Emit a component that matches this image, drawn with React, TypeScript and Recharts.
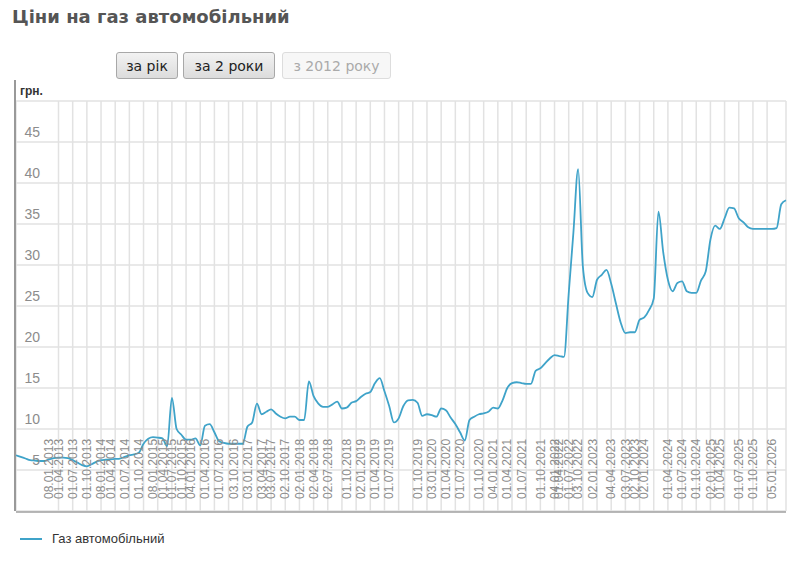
import { LineChart, Line, XAxis, YAxis, CartesianGrid } from 'recharts';

// weekly-ish price points, one per category slot (грн. за літр)
const gasPrices = [
  6.8, 6.6, 6.4, 6.2, 6.15, 6.1, 6.1, 6.3, 6.45, 6.5,
  6.5, 6.45, 6.2, 5.9, 5.6, 5.45, 5.7, 6.0, 6.2, 6.25,
  6.3, 6.35, 6.4, 6.6, 6.8, 6.9, 7.1, 8.2, 8.8, 9.0,
  8.95, 8.85, 7.9, 13.8, 10.0, 9.3, 8.7, 8.7, 8.85, 8.0,
  10.4, 10.6, 9.6, 8.5, 8.3, 8.2, 8.2, 8.2, 8.2, 10.3,
  10.8, 13.1, 11.8, 12.1, 12.4, 11.9, 11.5, 11.3, 11.5, 11.5,
  11.1, 11.1, 15.8, 14.0, 13.1, 12.7, 12.7, 13.0, 13.35, 12.5,
  12.6, 13.2, 13.4, 13.9, 14.3, 14.5, 15.6, 16.2, 14.6, 12.8,
  10.8, 11.3, 12.8, 13.5, 13.55, 13.2, 11.6, 11.8, 11.7, 11.5,
  12.5, 12.3, 11.4, 10.6, 9.6, 8.6, 11.1, 11.5, 11.8, 11.9,
  12.1, 12.6, 12.5, 13.5, 15.0, 15.6, 15.7, 15.6, 15.5, 15.5,
  17.1, 17.4, 18.0, 18.6, 19.0, 18.9, 18.8, 26.5, 34.0, 41.7,
  29.8, 26.6, 26.1, 28.2, 28.8, 29.4, 27.7, 25.3, 23.0, 21.7,
  21.8, 21.8, 23.3, 23.6, 24.5, 25.9, 36.5, 31.6, 28.2, 26.8,
  27.8, 28.0, 26.8, 26.6, 26.6, 28.1, 29.2, 33.1, 34.8, 34.4,
  35.7, 37.0, 36.9, 35.7, 35.2, 34.6, 34.4, 34.4, 34.4, 34.4,
  34.4, 34.5, 37.4, 37.9,
];

const tickLabels = [
  '08.01.2013', '01.04.2013', '01.07.2013', '01.10.2013',
  '08.01.2014', '01.04.2014', '01.07.2014', '01.10.2014',
  '08.01.2015', '01.04.2015', '01.07.2015', '01.10.2015',
  '04.01.2016', '01.04.2016', '01.07.2016', '03.10.2016',
  '03.01.2017', '03.04.2017', '03.07.2017', '02.10.2017',
  '02.01.2018', '02.04.2018', '02.07.2018', '01.10.2018',
  '02.01.2019', '01.04.2019', '01.07.2019', '01.10.2019',
  '03.01.2020', '01.04.2020', '01.07.2020', '01.10.2020',
  '04.01.2021', '01.04.2021', '01.07.2021', '01.10.2021',
  '04.01.2022', '01.04.2022', '01.07.2022', '03.10.2022',
  '02.01.2023', '04.04.2023', '03.07.2023', '02.10.2023',
  '02.01.2024', '01.04.2024', '01.07.2024', '01.10.2024',
  '02.01.2025', '01.04.2025', '01.07.2025', '01.10.2025',
  '05.01.2026',
];

// index of the price point each label date falls on
const tickIndex = [
  7, 9, 12, 15, 18, 20, 23, 26, 29, 31, 33, 35,
  37, 40, 43, 46, 49, 52, 54, 57, 60, 63, 66, 70,
  73, 76, 79, 85, 88, 91, 94, 98, 101, 104, 107, 111,
  114, 115, 117, 119, 122, 126, 129, 131, 133, 138, 141, 144,
  147, 149, 153, 156, 160,
];

const yTicks = [0, 5, 10, 15, 20, 25, 30, 35, 40, 45, 50];

const data = gasPrices.map((v, i) => ({ i, v }));
const lastIndex = gasPrices.length - 1;
const labelByIndex = new Map(tickIndex.map((idx, k) => [idx, tickLabels[k]]));
const gridTicks: number[] = [];
for (let g = 9; g <= lastIndex - 3; g += 3) gridTicks.push(g);

const LINE_COLOR = '#3fa3c9';
const AXIS_FONT = '"Liberation Sans", Arial, sans-serif';

const XTick = (props: any) => {
  const { x, y, payload } = props;
  const label = labelByIndex.get(payload.value);
  if (!label) return null;
  return (
    <text
      transform={`translate(${x},${y - 13}) rotate(-90)`}
      dy="0.35em"
      textAnchor="start"
      fontSize={12}
      fontFamily={AXIS_FONT}
      fill="#8c8c8c"
    >
      {label}
    </text>
  );
};

const YTick = (props: any) => {
  const { x, y, payload } = props;
  if (payload.value === 0 || payload.value === 50) return null;
  return (
    <text x={x + 24} y={y - 5} textAnchor="end" fontSize={14} fontFamily={AXIS_FONT} fill="#8c8c8c">
      {payload.value}
    </text>
  );
};

const NoTick = () => null;

const btnBase: React.CSSProperties = {
  position: 'absolute',
  top: 52,
  height: 27,
  boxSizing: 'border-box',
  border: '1px solid #a8a8a8',
  borderRadius: 3,
  background: 'linear-gradient(#f2f2f2, #dcdcdc)',
  fontFamily: '"DejaVu Sans", Verdana, sans-serif',
  fontSize: 14,
  color: '#222',
  display: 'flex',
  alignItems: 'center',
  justifyContent: 'center',
};

const App = () => {
  return (
    <div style={{ position: 'absolute', left: 0, top: 0, width: 800, height: 567, background: '#fff', overflow: 'hidden' }}>
      <div
        style={{
          position: 'absolute',
          left: 12,
          top: 6,
          fontFamily: '"DejaVu Sans", Verdana, sans-serif',
          fontWeight: 'bold',
          fontSize: 18,
          color: '#555',
        }}
      >
        Ціни на газ автомобільний
      </div>

      <div style={{ ...btnBase, left: 116, width: 62 }}>за рік</div>
      <div style={{ ...btnBase, left: 183, width: 92 }}>за 2 роки</div>
      <div
        style={{
          ...btnBase,
          left: 282,
          width: 109,
          color: '#aaa',
          border: '1px solid #ddd',
          background: '#f7f7f7',
        }}
      >
        з 2012 року
      </div>

      <div
        style={{
          position: 'absolute',
          left: 20,
          top: 84,
          fontFamily: AXIS_FONT,
          fontSize: 12,
          fontWeight: 'bold',
          color: '#333',
        }}
      >
        грн.
      </div>

      <div style={{ position: 'absolute', left: 0, top: 0 }}>
        <LineChart width={800} height={567} data={data} margin={{ top: 101, right: 14, bottom: 54, left: 15 }}>
          <CartesianGrid xAxisId="grid" stroke="#e2e2e2" strokeWidth={1.5} />
          <XAxis
            xAxisId="main"
            type="number"
            dataKey="i"
            domain={[0, lastIndex]}
            ticks={tickIndex}
            interval={0}
            height={1}
            tickSize={0}
            tickMargin={0}
            tickLine={false}
            tick={<XTick />}
            axisLine={{ stroke: '#a0a0a0', strokeWidth: 1.5 }}
          />
          <XAxis
            xAxisId="grid"
            type="number"
            dataKey="i"
            domain={[0, lastIndex]}
            ticks={gridTicks}
            interval={0}
            height={1}
            tick={<NoTick />}
            tickLine={false}
            axisLine={false}
          />
          <YAxis
            type="number"
            domain={[0, 50]}
            ticks={yTicks}
            interval={0}
            width={1}
            tickSize={0}
            tickMargin={0}
            tickLine={false}
            axisLine={false}
            tick={<YTick />}
          />
          <Line
            xAxisId="main"
            type="monotone"
            dataKey="v"
            stroke={LINE_COLOR}
            strokeWidth={1.8}
            dot={false}
            isAnimationActive={false}
          />
        </LineChart>
      </div>

      <div style={{ position: 'absolute', left: 14, top: 80, width: 2, height: 431, background: '#999' }} />

      <div
        style={{
          position: 'absolute',
          left: 20,
          top: 531,
          display: 'flex',
          alignItems: 'center',
          fontFamily: AXIS_FONT,
          fontSize: 13,
          color: '#333',
        }}
      >
        <svg width={24} height={4} style={{ marginRight: 8 }}>
          <line x1={0} y1={2} x2={22} y2={2} stroke={LINE_COLOR} strokeWidth={2} />
        </svg>
        Газ автомобільний
      </div>
    </div>
  );
};

export default App;
